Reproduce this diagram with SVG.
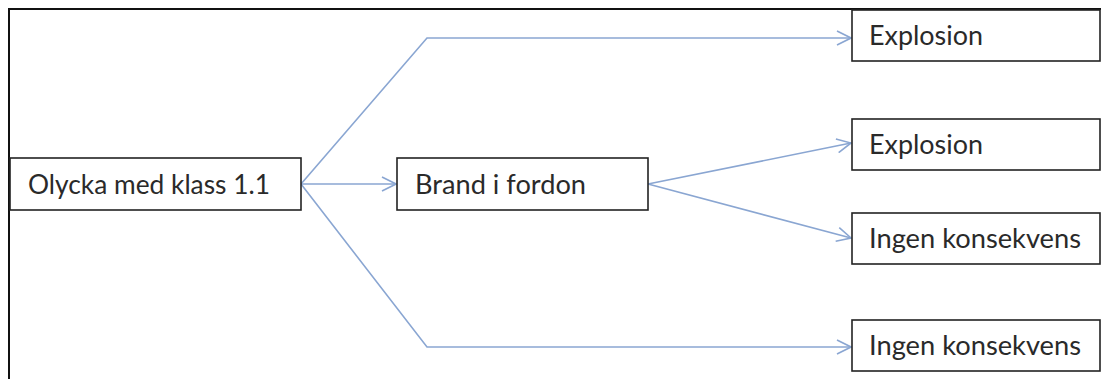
<svg xmlns="http://www.w3.org/2000/svg" width="1101" height="379" viewBox="0 0 1101 379">
<style>
.box{fill:#fff;stroke:#222;stroke-width:1.6}
.t{font-family:Lato,"Open Sans","Liberation Sans",sans-serif;font-size:27px;fill:#2a2a2a}
.c{fill:none;stroke:#8aa6d2;stroke-width:1.6}
</style>
<defs>
<marker id="a" viewBox="0 0 16 16" refX="15" refY="8" markerWidth="16" markerHeight="16" markerUnits="userSpaceOnUse" orient="auto">
<path d="M1,1 L15,8 L1,15" fill="none" stroke="#8aa6d2" stroke-width="1.6"/>
</marker>
</defs>
<rect width="1101" height="379" fill="#fff"/>
<path d="M9,379 V9 H1101" fill="none" stroke="#111" stroke-width="2"/>
<g id="connectors">
<path class="c" d="M301,184 L427,38 H851" marker-end="url(#a)"/>
<path class="c" d="M301,184 H396" marker-end="url(#a)"/>
<path class="c" d="M301,184 L427,347 H851" marker-end="url(#a)"/>
<path class="c" d="M648,184 L851,143" marker-end="url(#a)"/>
<path class="c" d="M648,184 L851,238" marker-end="url(#a)"/>
</g>
<g id="n1"><rect class="box" x="10" y="158" width="291" height="52"/><text class="t" x="28" y="194" textLength="242" lengthAdjust="spacingAndGlyphs">Olycka med klass 1.1</text></g>
<g id="n2"><rect class="box" x="397" y="158" width="251" height="52"/><text class="t" x="415" y="194" textLength="171" lengthAdjust="spacingAndGlyphs">Brand i fordon</text></g>
<g id="n3"><rect class="box" x="852" y="10" width="248" height="51"/><text class="t" x="869" y="45" textLength="114" lengthAdjust="spacingAndGlyphs">Explosion</text></g>
<g id="n4"><rect class="box" x="852" y="119" width="248" height="51"/><text class="t" x="869" y="154" textLength="114" lengthAdjust="spacingAndGlyphs">Explosion</text></g>
<g id="n5"><rect class="box" x="852" y="213" width="248" height="51"/><text class="t" x="869" y="248" textLength="212" lengthAdjust="spacingAndGlyphs">Ingen konsekvens</text></g>
<g id="n6"><rect class="box" x="852" y="320" width="248" height="51"/><text class="t" x="869" y="355" textLength="212" lengthAdjust="spacingAndGlyphs">Ingen konsekvens</text></g>
</svg>
